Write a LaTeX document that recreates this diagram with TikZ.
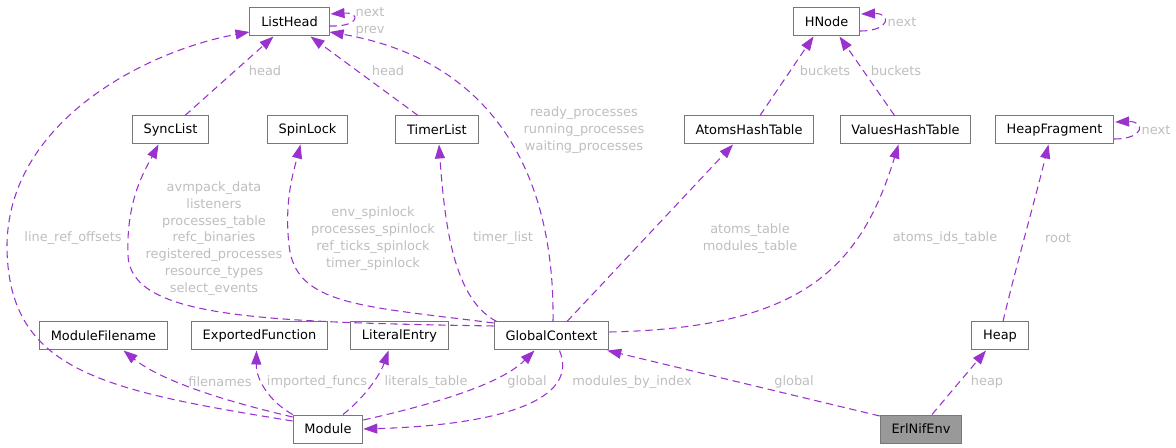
\documentclass[tikz,border=0pt]{standalone}
\usepackage{fontspec}
\setmainfont{DejaVu Sans}
\usetikzlibrary{calc,arrows.meta}
\definecolor{edgepurple}{HTML}{9A32CD}
\definecolor{boxline}{HTML}{777777}
\definecolor{lblgrey}{HTML}{BEBEBE}
\definecolor{mainfill}{HTML}{999999}

\begin{document}
\begin{tikzpicture}[x=0.75pt, y=-0.75pt,
    every node/.style={font=\fontsize{9.7pt}{12.6pt}\selectfont, align=center},
    cls/.style={draw=boxline, line width=0.75pt, fill=white, inner xsep=8.5pt, inner ysep=0pt, minimum height=21pt},
    member/.style={draw=edgepurple, line width=0.8pt, dash pattern=on 5.5pt off 3.5pt, -{Triangle[length=10.5pt, width=7.5pt]}},
    memlbl/.style={text=lblgrey, inner sep=0pt}]
\useasboundingbox (0,0) rectangle (1176,448);
% Top rows: member types
\node[cls] (listhead) at (289.5,22) {ListHead};
\node[cls] (hnode) at (826.5,22) {HNode};
\node[cls] (synclist) at (170.5,130) {SyncList};
\node[cls] (spinlock) at (307.5,130) {SpinLock};
\node[cls] (timerlist) at (437,130) {TimerList};
\node[cls] (atomsht) at (749,130) {AtomsHashTable};
\node[cls] (valuesht) at (905.5,130) {ValuesHashTable};
\node[cls] (heapfrag) at (1054.5,130) {HeapFragment};
% Lower rows
\node[cls] (modfile) at (103.5,336) {ModuleFilename};
\node[cls] (expfunc) at (259.5,336) {ExportedFunction};
\node[cls] (litentry) at (399.5,336) {LiteralEntry};
\node[cls] (globalctx) at (551.5,336) {GlobalContext};
\node[cls] (heap) at (1000,336) {Heap};
\node[cls] (module) at (328,429) {Module};
\node[cls, fill=mainfill] (erlnifenv) at (921,429) {ErlNifEnv};
% Member edges
\draw[member] ($(listhead.east)+(0,4)$) .. controls +(31,1) and +(30,-2) .. ($(listhead.east)+(1,-8)$);
\draw[member] ($(synclist.north)+(14.5,0)$) -- ($(listhead.south)+(-16,0)$);
\draw[member] ($(timerlist.north)+(-19,0)$) -- ($(listhead.south)+(21,0)$);
\draw[member] ($(globalctx.north)+(1.5,0)$) .. controls (555,170) and (490,60) .. ($(listhead.east)+(0,10)$);
\draw[member] ($(module.west)+(0,-8)$) .. controls (100,390) and (10,370) .. (7,250)
  .. controls (5,120) and (150,50) .. ($(listhead.west)+(0,10)$);
\draw[member] ($(hnode.east)+(0,9)$) .. controls +(31,0) and +(30,-1) .. ($(hnode.east)+(1,-8)$);
\draw[member] ($(atomsht.north)+(11,0)$) -- ($(hnode.south)+(-13,0)$);
\draw[member] ($(valuesht.north)+(-11,0)$) -- ($(hnode.south)+(13,0)$);
\draw[member] ($(heapfrag.east)+(0,9)$) .. controls +(31,0) and +(30,-1) .. ($(heapfrag.east)+(1,-8)$);
\draw[member] ($(globalctx.west)+(0,-10)$) .. controls (260,322) and (130,318) .. (128,255)
  .. controls (126,200) and (145,170) .. ($(synclist.south)+(-12,0)$);
\draw[member] ($(globalctx.west)+(0,-13)$) .. controls (360,306) and (295,305) .. (289,245)
  .. controls (284,200) and (294,170) .. ($(spinlock.south)+(-7,0)$);
\draw[member] ($(globalctx.north west)+(3,0)$) .. controls (455,300) and (445,230) .. ($(timerlist.south)+(2,0)$);
\draw[member] ($(globalctx.north)+(15.5,0)$) -- ($(atomsht.south)+(-16,0)$);
\draw[member] ($(globalctx.east)+(0,-4)$) .. controls (800,328) and (860,270) .. ($(valuesht.south)+(-7,0)$);
\draw[member] ($(heap.north)+(3,0)$) .. controls (1015,270) and (1035,200) .. ($(heapfrag.south)+(-6,0)$);
\draw[member] ($(erlnifenv.north)+(11,0)$) -- ($(heap.south)+(-14,0)$);
\draw[member] ($(erlnifenv.west)+(0,-13)$) -- ($(globalctx.south east)+(-2,0)$);
\draw[member] ($(module.west)+(0,-12)$) .. controls (220,400) and (160,380) .. ($(modfile.south)+(20,0)$);
\draw[member] (module.north west) .. controls (270,402) and (256,380) .. ($(expfunc.south)+(-3,0)$);
\draw[member] ($(module.north)+(15,0)$) .. controls (365,397) and (380,375) .. ($(litentry.south)+(-11,0)$);
\draw[member] ($(module.east)+(0,-9)$) .. controls (430,405) and (500,385) .. ($(globalctx.south)+(-17,0)$);
\draw[member] ($(globalctx.south)+(8,0)$) .. controls (580,400) and (500,425) .. (module.east);
% Edge labels
\node[memlbl] (lblnextlh) at (370,22) {next\\prev};
\node[memlbl] (lblheadsync) at (265,71) {head};
\node[memlbl] (lblheadtimer) at (388,71) {head};
\node[memlbl] (lblprocs) at (584,130) {ready\_processes\\running\_processes\\waiting\_processes};
\node[memlbl] (lblbucketsa) at (825,71) {buckets};
\node[memlbl] (lblbucketsv) at (896,71) {buckets};
\node[memlbl] (lblnexthn) at (902,22) {next};
\node[memlbl] (lblnexthf) at (1156,130) {next};
\node[memlbl] (lbllineref) at (73,238) {line\_ref\_offsets};
\node[memlbl] (lblsync) at (214,238.5) {avmpack\_data\\listeners\\processes\_table\\refc\_binaries\\registered\_processes\\resource\_types\\select\_events};
\node[memlbl] (lblspin) at (373,238.5) {env\_spinlock\\processes\_spinlock\\ref\_ticks\_spinlock\\timer\_spinlock};
\node[memlbl] (lbltimer) at (503,238) {timer\_list};
\node[memlbl] (lblatoms) at (750,238.5) {atoms\_table\\modules\_table};
\node[memlbl] (lblatomids) at (945,238) {atoms\_ids\_table};
\node[memlbl] (lblroot) at (1058,238) {root};
\node[memlbl] (lblfiles) at (220,382) {filenames};
\node[memlbl] (lblimported) at (317,382) {imported\_funcs};
\node[memlbl] (lblliterals) at (426,382) {literals\_table};
\node[memlbl] (lblglobalm) at (527,382) {global};
\node[memlbl] (lblmodidx) at (632,382) {modules\_by\_index};
\node[memlbl] (lblglobale) at (794,382) {global};
\node[memlbl] (lblheap) at (987,382) {heap};
\end{tikzpicture}
\end{document}
